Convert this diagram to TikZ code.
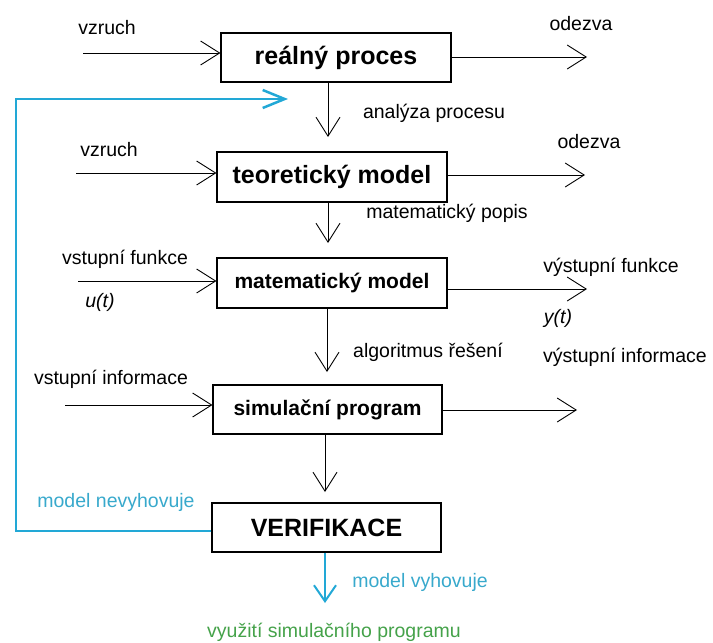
\documentclass[tikz,border=0pt]{standalone}
\usepackage{fontspec}
\setmainfont{Liberation Sans}
\usetikzlibrary{arrows.meta}
\definecolor{fbblue}{HTML}{22A8D6}
\definecolor{fbtext}{HTML}{38A9CC}
\definecolor{fbgreen}{HTML}{45A24A}
\begin{document}
\begin{tikzpicture}[x=1pt,y=-1pt,
  box/.style={draw, line width=1.1pt, minimum width=230pt, minimum height=49pt, inner sep=0pt, font=\bfseries\fontsize{25}{30}\selectfont},
  boxs/.style={box, font=\bfseries\fontsize{21}{25}\selectfont},
  lbl/.style={inner sep=0pt, font=\fontsize{19.5}{23}\selectfont},
  lbli/.style={lbl, font=\itshape\fontsize{19.5}{23}\selectfont},
  flow/.style={line width=0.9pt, -{Straight Barb[length=19pt,width=24pt]}},
  fb/.style={draw=fbblue, line width=2.5pt, -{Straight Barb[length=22pt,width=18pt]}},
  ok/.style={draw=fbblue, line width=2pt, -{Straight Barb[length=16pt,width=22pt]}}]
\useasboundingbox (0,0) rectangle (713,643);

% boxes
\node[box] (b1) at (336,57.5) {reálný proces};
\node[box, minimum height=50pt] (b2) at (332,177) {teoretický model};
\node[boxs, minimum height=50pt] (b3) at (332,283) {matematický model};
\node[boxs, minimum width=229pt] (b4) at (327.5,409.5) {simulační program};
\node[box, minimum width=229pt] (b5) at (326.5,527.5) {VERIFIKACE};

% free ends
\coordinate (i1) at (83,53);
\coordinate (o1) at (587,57);
\coordinate (i2) at (76,173);
\coordinate (o2) at (585,175);
\coordinate (i3) at (78,281);
\coordinate (o3) at (587,289);
\coordinate (i4) at (65,405);
\coordinate (o4) at (577,410);
\coordinate (t12) at (328,137);
\coordinate (t23) at (328,243);
\coordinate (t34) at (327,372);
\coordinate (t45) at (325,492);
\coordinate (tok) at (325,603);
\coordinate (fbc) at (16,531);
\coordinate (fbt) at (288,99);

% inputs / outputs
\draw[flow] (i1) -- (i1 -| b1.west);
\draw[flow] (o1 -| b1.east) -- (o1);
\draw[flow] (i2) -- (i2 -| b2.west);
\draw[flow] (o2 -| b2.east) -- (o2);
\draw[flow] (i3) -- (i3 -| b3.west);
\draw[flow] (o3 -| b3.east) -- (o3);
\draw[flow] (i4) -- (i4 -| b4.west);
\draw[flow] (o4 -| b4.east) -- (o4);

% vertical flow
\draw[flow] (t12 |- b1.south) -- (t12);
\draw[flow] (t23 |- b2.south) -- (t23);
\draw[flow] (t34 |- b3.south) -- (t34);
\draw[flow] (t45 |- b4.south) -- (t45);

% feedback
\draw[fb] (fbc -| b5.west) -- (fbc) |- (fbt);
\draw[ok] (tok |- b5.south) -- (tok);

% labels
\node[lbl] (l1) at (107,28) {vzruch};
\node[lbl] (l2) at (581,24) {odezva};
\node[lbl] (l3) at (434,113) {analýza procesu};
\node[lbl] (l4) at (109,150) {vzruch};
\node[lbl] (l5) at (589,142) {odezva};
\node[lbl] (l6) at (447,213) {matematický popis};
\node[lbl] (l7) at (125,259) {vstupní funkce};
\node[lbli] (l8) at (100,302) {u(t)};
\node[lbl] (l9) at (611,267) {výstupní funkce};
\node[lbli] (l10) at (558,318) {y(t)};
\node[lbl] (l11) at (428,352) {algoritmus řešení};
\node[lbl] (l12) at (111,379) {vstupní informace};
\node[lbl] (l13) at (625,357) {výstupní informace};
\node[lbl, text=fbtext] (l14) at (116,502) {model nevyhovuje};
\node[lbl, text=fbtext] (l15) at (420,582) {model vyhovuje};
\node[lbl, text=fbgreen] (l16) at (334,632) {využití simulačního programu};
\end{tikzpicture}
\end{document}
